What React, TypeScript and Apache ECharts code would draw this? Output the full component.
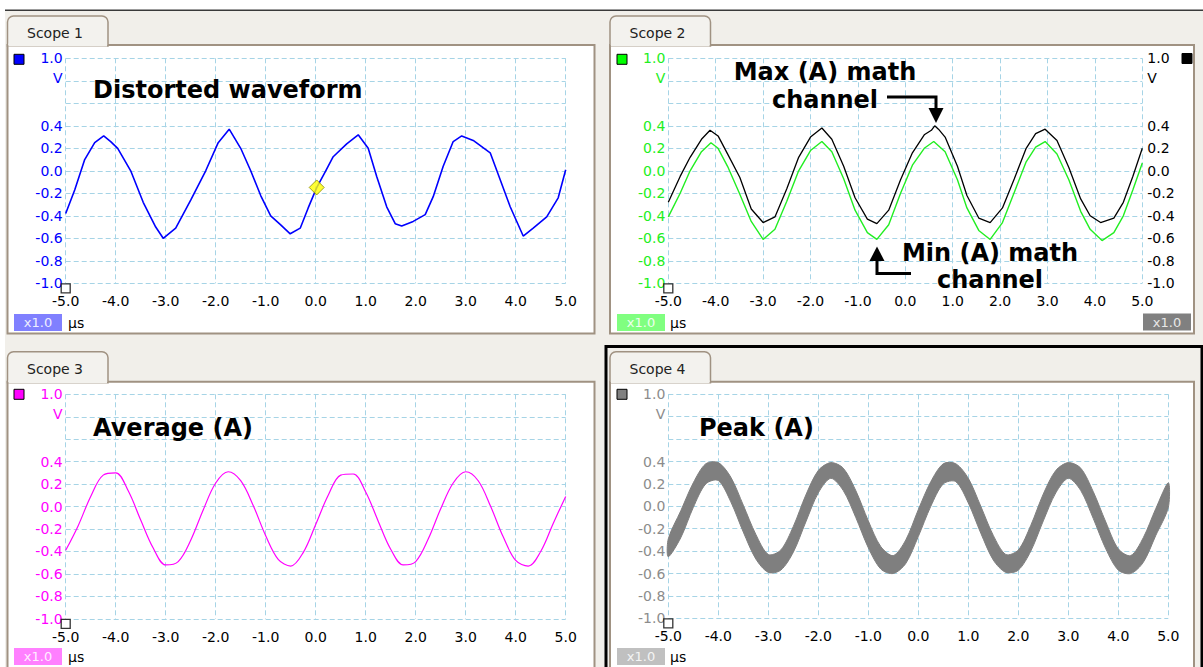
import React, { useEffect, useRef } from 'react';
import * as echarts from 'echarts';

const W = 1203;
const H = 667;

// ---------- data (µs, V) ----------
const xTicks = [-5, -4, -3, -2, -1, 0, 1, 2, 3, 4, 5];

// Scope 1 : distorted waveform (time, volts)
const distortedWave: number[][] = [
  [-5, -0.38], [-4.82, -0.17], [-4.62, 0.1], [-4.42, 0.25], [-4.24, 0.31], [-4.1, 0.26], [-3.96, 0.2],
  [-3.7, 0.0], [-3.45, -0.28], [-3.2, -0.5], [-3.05, -0.6], [-2.8, -0.51], [-2.5, -0.26], [-2.2, 0.0],
  [-1.95, 0.25], [-1.73, 0.37], [-1.5, 0.2], [-1.3, 0.0], [-1.1, -0.22], [-0.9, -0.4], [-0.7, -0.48],
  [-0.51, -0.56], [-0.31, -0.51], [-0.15, -0.33], [0.02, -0.15], [0.19, -0.01], [0.35, 0.125], [0.62, 0.24],
  [0.85, 0.32], [1.05, 0.2], [1.22, -0.05], [1.42, -0.32], [1.59, -0.47], [1.72, -0.49], [1.95, -0.45],
  [2.19, -0.39], [2.35, -0.23], [2.55, 0.04], [2.75, 0.26], [2.92, 0.31], [3.15, 0.27], [3.49, 0.16],
  [3.69, -0.08], [3.89, -0.32], [4.15, -0.58], [4.35, -0.51], [4.62, -0.41], [4.85, -0.24], [5.0, 0.01],
];
const cursorPoint: number[][] = [[0.02, -0.148]];

// Scope 2 : Max (A) and Min (A) math channels
const maxChannel: number[][] = [
  [-5, -0.28], [-4.75, -0.05], [-4.54, 0.12], [-4.3, 0.28], [-4.12, 0.36], [-3.95, 0.31], [-3.75, 0.15],
  [-3.49, -0.06], [-3.25, -0.34], [-3.0, -0.46], [-2.75, -0.41], [-2.5, -0.16], [-2.25, 0.12], [-2.0, 0.3],
  [-1.76, 0.38], [-1.55, 0.28], [-1.3, 0.04], [-1.06, -0.24], [-0.8, -0.43], [-0.6, -0.47], [-0.35, -0.35],
  [-0.1, -0.08], [0.15, 0.16], [0.4, 0.32], [0.55, 0.36], [0.62, 0.4], [0.7, 0.37], [0.84, 0.3], [1.1, 0.04],
  [1.3, -0.22], [1.55, -0.42], [1.79, -0.46], [2.05, -0.33], [2.3, -0.07], [2.55, 0.2], [2.75, 0.33],
  [2.95, 0.37], [3.2, 0.27], [3.45, 0.03], [3.7, -0.25], [3.9, -0.4], [4.12, -0.46], [4.4, -0.42],
  [4.6, -0.28], [4.8, -0.05], [5.0, 0.2],
];
const minChannel: number[][] = [
  [-5, -0.41], [-4.75, -0.2], [-4.54, 0.0], [-4.3, 0.17], [-4.1, 0.25], [-3.95, 0.2], [-3.75, 0.04],
  [-3.5, -0.2], [-3.25, -0.45], [-3.0, -0.61], [-2.75, -0.52], [-2.5, -0.27], [-2.25, 0.0], [-2.0, 0.18],
  [-1.76, 0.26], [-1.55, 0.17], [-1.3, -0.07], [-1.06, -0.35], [-0.8, -0.55], [-0.6, -0.61], [-0.35, -0.48],
  [-0.1, -0.2], [0.15, 0.05], [0.4, 0.2], [0.6, 0.26], [0.84, 0.17], [1.1, -0.08], [1.3, -0.33],
  [1.55, -0.53], [1.79, -0.61], [2.05, -0.46], [2.3, -0.19], [2.55, 0.08], [2.75, 0.21], [2.95, 0.26],
  [3.2, 0.15], [3.45, -0.08], [3.7, -0.36], [3.9, -0.52], [4.15, -0.62], [4.4, -0.55], [4.6, -0.4],
  [4.8, -0.17], [5.0, 0.07],
];

// Scope 3 / Scope 4 sample times
const sampleTimes = [
  -5, -4.75, -4.5, -4.25, -4, -3.75, -3.5, -3.25, -3, -2.75, -2.5, -2.25, -2, -1.75, -1.5, -1.25, -1, -0.75,
  -0.5, -0.25, 0, 0.25, 0.5, 0.75, 1, 1.25, 1.5, 1.75, 2, 2.25, 2.5, 2.75, 3, 3.25, 3.5, 3.75, 4, 4.25, 4.5,
  4.75, 5,
];
// Scope 3 : Average (A)
const averageA = [
  -0.39, -0.17, 0.09, 0.28, 0.3, 0.14, -0.12, -0.37, -0.52, -0.49, -0.3, -0.03, 0.21, 0.31, 0.23, 0.01, -0.26,
  -0.47, -0.53, -0.41, -0.16, 0.1, 0.28, 0.29, 0.13, -0.13, -0.38, -0.52, -0.49, -0.29, -0.02, 0.21, 0.31, 0.23,
  0.0, -0.27, -0.48, -0.53, -0.4, -0.15, 0.09,
];
// Scope 4 : Peak (A) envelope
const peakUpper = [
  -0.29, -0.04, 0.21, 0.38, 0.39, 0.26, 0.01, -0.25, -0.43, -0.39, -0.18, 0.1, 0.32, 0.39, 0.34, 0.14, -0.13,
  -0.36, -0.44, -0.3, -0.03, 0.22, 0.38, 0.38, 0.25, 0.0, -0.26, -0.43, -0.39, -0.17, 0.11, 0.32, 0.39, 0.34,
  0.13, -0.14, -0.38, -0.44, -0.28, -0.02, 0.21,
];
const peakLower = [
  -0.45, -0.28, -0.01, 0.2, 0.23, 0.04, -0.23, -0.47, -0.59, -0.57, -0.41, -0.14, 0.12, 0.25, 0.14, -0.1, -0.37,
  -0.56, -0.6, -0.51, -0.27, 0.0, 0.2, 0.22, 0.03, -0.24, -0.48, -0.59, -0.57, -0.4, -0.13, 0.12, 0.25, 0.14,
  -0.11, -0.38, -0.57, -0.6, -0.5, -0.26, -0.01,
];

// ---------- styling ----------
const FONT = 'DejaVu Sans';
const GRID_COLOR = '#a6d4e6';
const FRAME = '#a09282';
const BG = '#f1efea';
const TAB_BG = '#f3f2ee';

const grids = [
  { left: 65.7, top: 58.3, width: 500, height: 225 },
  { left: 668.3, top: 58.3, width: 474, height: 225 },
  { left: 65.7, top: 394.3, width: 500, height: 224.5 },
  { left: 668.3, top: 394.3, width: 500, height: 224 },
];

const xFmt = (v: number) => {
  const r = Math.round(v * 10) / 10;
  return (r === 0 ? 0 : r).toFixed(1);
};
const yFmt = (v: number) => {
  const r = Math.round(v * 10) / 10;
  if (Math.abs(r - 0.8) < 1e-6) return '{v|V}';
  if (Math.abs(r - 0.6) < 1e-6) return '';
  return (r === 0 ? 0 : r).toFixed(1);
};

function makeX(i: number) {
  return {
    type: 'value',
    gridIndex: i,
    min: xTicks[0],
    max: xTicks[xTicks.length - 1],
    interval: 1,
    axisLine: { show: false },
    axisTick: { show: false },
    splitLine: { show: true, lineStyle: { color: GRID_COLOR, type: [5, 3], width: 1 } },
    axisLabel: { formatter: xFmt, color: '#000', fontFamily: FONT, fontSize: 14, margin: 11 },
  };
}
function makeY(i: number, color: string, position: 'left' | 'right', split: boolean) {
  return {
    type: 'value',
    gridIndex: i,
    position,
    min: -1,
    max: 1,
    interval: 0.2,
    axisLine: { show: false },
    axisTick: { show: false },
    splitLine: { show: split, lineStyle: { color: GRID_COLOR, type: [5, 3], width: 1 } },
    axisLabel: {
      formatter: yFmt,
      color,
      fontFamily: FONT,
      fontSize: 14,
      margin: position === 'left' ? 3 : 5,
      rich: { v: { color, fontFamily: FONT, fontSize: 14, padding: [0, 0, 5, 0] } },
    },
  };
}

const rect = (x: number, y: number, w: number, h: number, style: any, z = -5, r?: number[]) => ({
  type: 'rect',
  shape: { x, y, width: w, height: h, r: r || 0 },
  style,
  z,
  silent: true,
});
const text = (x: number, y: number, t: string, font: string, fill: string, align = 'left', z = 10, extra: any = {}) => ({
  type: 'text',
  x,
  y,
  style: { text: t, font, fill, align, verticalAlign: 'middle', ...extra },
  z,
  silent: true,
});

function panel(px: number, py: number, pw: number, ph: number, tabX: number, tabY: number, label: string) {
  const tabW = 100.5;
  return [
    rect(px, py, pw, ph, { fill: '#fff', stroke: FRAME, lineWidth: 2 }, -6),
    rect(tabX, tabY, tabW, py - tabY + 1, { fill: TAB_BG, stroke: FRAME, lineWidth: 1.5 }, -5, [6, 6, 0, 0]),
    rect(tabX + 1, py - 1.5, tabW - 2, 3, { fill: TAB_BG }, -4),
    text(tabX + 19.5, tabY + 17.3, label, `14px "${FONT}"`, '#222', 'left', -3),
  ];
}

function legendSquare(x: number, y: number, fill: string) {
  return rect(x, y, 10, 10, { fill, stroke: '#000', lineWidth: 1 }, -3);
}
function badge(x: number, y: number, fill: string, txtFill: string) {
  return [
    rect(x, y, 48, 17, { fill }, -3),
    text(x + 24, y + 8.5, 'x1.0', `13px "${FONT}"`, txtFill, 'center', -2),
  ];
}

function buildOption(): any {
  const titleFont = `bold 24px "${FONT}"`;
  const graphics: any[] = [
    rect(5, 11, W - 5, H - 11, { fill: BG }, -10),
    rect(5, 9.5, W - 5, 1.6, { fill: '#3a3a3a' }, -9),
    ...panel(7.5, 45, 587, 288.5, 7.5, 16, 'Scope 1'),
    ...panel(610, 45, 584, 288.5, 610, 16, 'Scope 2'),
    ...panel(7.5, 381.7, 587, 300, 7.5, 351.7, 'Scope 3'),
    ...panel(610, 381.7, 584, 300, 610, 351.7, 'Scope 4'),
    rect(606, 346.5, 596, 330, { fill: 'none', stroke: '#000', lineWidth: 3 }, -2),

    legendSquare(14, 54.3, '#0000ff'),
    legendSquare(617, 54.3, '#00ff00'),
    legendSquare(1182, 53.5, '#000000'),
    legendSquare(14, 389.3, '#ff00ff'),
    legendSquare(617, 389.3, '#808080'),

    ...badge(14, 314, '#8080ff', '#eef'),
    ...badge(617, 314, '#80ff80', '#efe'),
    ...badge(1143, 313.5, '#808080', '#e8e8e8'),
    ...badge(14, 648, '#ff80ff', '#fef'),
    ...badge(617, 648, '#c0c0c0', '#f4f4f4'),

    text(68, 322.5, 'µs', `14px "${FONT}"`, '#000', 'left', -2),
    text(670, 322.5, 'µs', `14px "${FONT}"`, '#000', 'left', -2),
    text(68, 657, 'µs', `14px "${FONT}"`, '#000', 'left', -2),
    text(670, 657, 'µs', `14px "${FONT}"`, '#000', 'left', -2),

    text(93, 90, 'Distorted waveform', titleFont, '#000'),
    text(93, 428.3, 'Average (A)', titleFont, '#000'),
    text(699, 428, 'Peak (A)', titleFont, '#000'),
    text(825, 86, 'Max (A) math\nchannel', titleFont, '#000', 'center', 10, { lineHeight: 28 }),
    text(990, 266, 'Min (A) math\nchannel', titleFont, '#000', 'center', 10, { lineHeight: 27 }),

    {
      type: 'polyline',
      shape: { points: [[887, 97], [936, 97], [936, 110]] },
      style: { stroke: '#000', lineWidth: 3, fill: 'none' },
      z: 10,
      silent: true,
    },
    {
      type: 'polygon',
      shape: { points: [[928.5, 108], [943.5, 108], [936, 123]] },
      style: { fill: '#000' },
      z: 10,
      silent: true,
    },
    {
      type: 'polyline',
      shape: { points: [[911, 273.5], [877, 273.5], [877, 259]] },
      style: { stroke: '#000', lineWidth: 3, fill: 'none' },
      z: 10,
      silent: true,
    },
    {
      type: 'polygon',
      shape: { points: [[869.5, 261], [884.5, 261], [877, 246.5]] },
      style: { fill: '#000' },
      z: 10,
      silent: true,
    },
  ];

  const cornerSquare = (xi: number, yi: number) => ({
    type: 'scatter',
    xAxisIndex: xi,
    yAxisIndex: yi,
    data: [[-5, -1]],
    symbol: 'rect',
    symbolSize: 9,
    symbolOffset: [0, 5],
    clip: false,
    silent: true,
    itemStyle: { color: '#fff', borderColor: '#000', borderWidth: 1.3 },
    z: 5,
  });

  return {
    animation: false,
    backgroundColor: '#fff',
    grid: grids.map((g) => ({ ...g, containLabel: false })),
    xAxis: [makeX(0), makeX(1), makeX(2), makeX(3)],
    yAxis: [
      makeY(0, '#0000ff', 'left', true),
      makeY(1, '#22ee22', 'left', true),
      makeY(1, '#000000', 'right', false),
      makeY(2, '#ff00ff', 'left', true),
      makeY(3, '#8c8c8c', 'left', true),
    ],
    graphic: { elements: graphics },
    series: [
      {
        type: 'line',
        name: 'Distorted waveform',
        xAxisIndex: 0,
        yAxisIndex: 0,
        data: distortedWave,
        showSymbol: false,
        lineStyle: { color: '#0000ff', width: 1.6 },
        silent: true,
      },
      {
        type: 'scatter',
        xAxisIndex: 0,
        yAxisIndex: 0,
        data: cursorPoint,
        symbol: 'diamond',
        symbolSize: [15, 15],
        itemStyle: { color: '#ffff00', borderColor: '#8a8a00', borderWidth: 1 },
        silent: true,
        z: 6,
      },
      {
        type: 'line',
        name: 'Min (A)',
        xAxisIndex: 1,
        yAxisIndex: 1,
        data: minChannel,
        showSymbol: false,
        lineStyle: { color: '#22ee22', width: 1.4 },
        silent: true,
      },
      {
        type: 'line',
        name: 'Max (A)',
        xAxisIndex: 1,
        yAxisIndex: 2,
        data: maxChannel,
        showSymbol: false,
        lineStyle: { color: '#000', width: 1.3 },
        silent: true,
      },
      {
        type: 'line',
        name: 'Average (A)',
        xAxisIndex: 2,
        yAxisIndex: 3,
        data: sampleTimes.map((t, i) => [t, averageA[i]]),
        showSymbol: false,
        smooth: 0.35,
        lineStyle: { color: '#ff00ff', width: 1.2 },
        silent: true,
      },
      {
        type: 'custom',
        name: 'Peak (A)',
        xAxisIndex: 3,
        yAxisIndex: 4,
        data: [[0, 0]],
        silent: true,
        renderItem: (_params: any, api: any) => {
          const upper: number[][] = [];
          const lower: number[][] = [];
          for (let i = 0; i < sampleTimes.length; i++) upper.push(api.coord([sampleTimes[i], peakUpper[i]]));
          for (let i = sampleTimes.length - 1; i >= 0; i--) lower.push(api.coord([sampleTimes[i], peakLower[i]]));
          return {
            type: 'group',
            children: [
              {
                type: 'polygon',
                shape: { points: upper.concat(lower), smooth: 0.3 },
                style: { fill: '#7f7f7f', stroke: '#7f7f7f', lineWidth: 1 },
              },
            ],
          };
        },
      },
      cornerSquare(0, 0),
      cornerSquare(1, 1),
      cornerSquare(2, 3),
      cornerSquare(3, 4),
    ],
  };
}

export default function App() {
  const ref = useRef<HTMLDivElement>(null);
  useEffect(() => {
    if (!ref.current) return;
    const chart = echarts.init(ref.current, null, { renderer: 'svg', width: W, height: H });
    chart.setOption(buildOption());
    return () => chart.dispose();
  }, []);
  return (
    <div
      ref={ref}
      style={{ position: 'fixed', left: 0, top: 0, width: W, height: H, background: '#fff', overflow: 'hidden' }}
    />
  );
}
